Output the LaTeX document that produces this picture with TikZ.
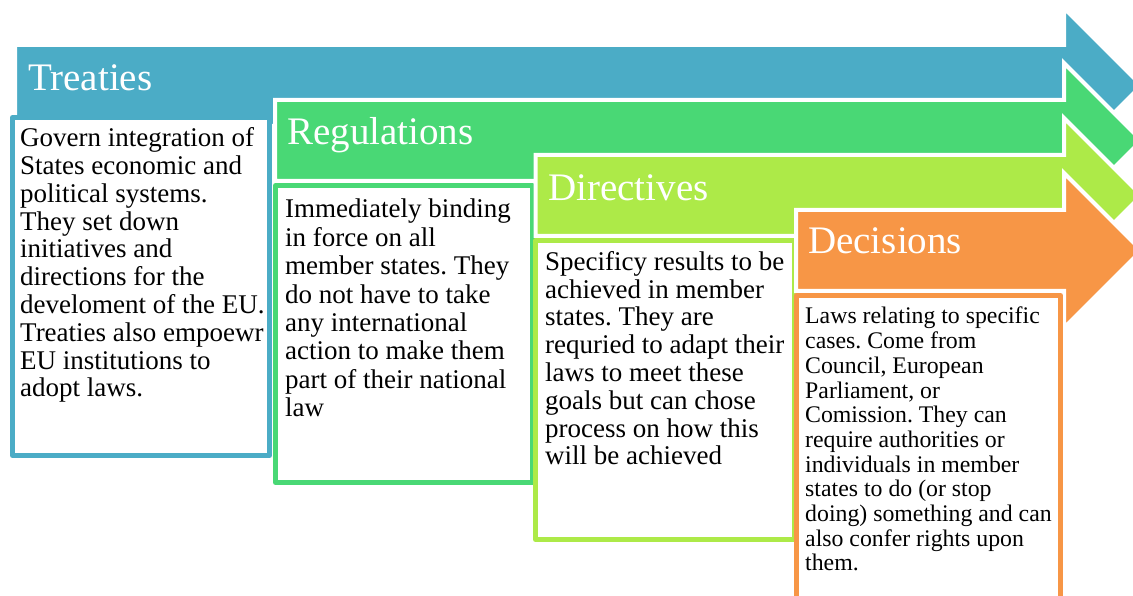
\documentclass[tikz,border=0pt]{standalone}
\usepackage{fontspec}
\setmainfont{Liberation Serif}
\frenchspacing
\definecolor{cblue}{RGB}{75,172,198}
\definecolor{cgreen}{RGB}{73,216,117}
\definecolor{clime}{RGB}{173,234,72}
\definecolor{corange}{RGB}{247,150,70}
\newcommand\bigarrow[3]{%
  \filldraw[arrowsty, fill=#1] (#2,#3-40.5) -- (1064,#3-40.5) -- (1064,#3-77.5)
    -- (1141.5,#3) -- (1064,#3+77.5) -- (1064,#3+40.5) -- (#2,#3+40.5) -- cycle;}
\tikzset{
  arrowsty/.style={draw=white, line width=4pt, line join=miter},
  boxsty/.style={fill=white, line width=5pt, line join=round},
  titlesty/.style={text=white, inner sep=0pt, anchor=base west,
    font=\fontsize{39}{44}\selectfont},
  bodysty/.style={text=black, inner sep=0pt, anchor=north west, align=left,
    font=\fontsize{27}{27.8}\selectfont},
  widebody/.style={bodysty, font=\fontsize{27}{28.4}\selectfont},
  smallbody/.style={bodysty, font=\fontsize{23.8}{24.7}\selectfont}
}
\begin{document}
\begin{tikzpicture}[x=1pt,y=-1pt]
\clip (0,0) rectangle (1133,596);
\fill[white] (0,0) rectangle (1133,596);
% Treaties
\bigarrow{cblue}{15}{85.5}
\draw[boxsty, draw=cblue] (12.5,117.5) rectangle (269.5,455.5);
\node[titlesty] (t1) at (28,91) {Treaties};
\node[bodysty] (b1) at (20,127.4) {Govern integration of\\States economic and\\political systems.\\They set down\\initiatives and\\directions for the\\develoment of the EU.\\Treaties also empoewr\\EU institutions to\\adopt laws.};
% Regulations
\bigarrow{cgreen}{275}{140.5}
\draw[boxsty, draw=cgreen] (275.5,185.5) rectangle (532.5,482.5);
\node[titlesty] (t2) at (287,145) {Regulations};
\node[widebody] (b2) at (285,199) {Immediately binding\\in force on all\\member states. They\\do not have to take\\any international\\action to make them\\part of their national\\law};
% Directives
\bigarrow{clime}{535.5}{195.5}
\draw[boxsty, draw=clime] (535.5,240.5) rectangle (794.5,539.5);
\node[titlesty] (t3) at (548,201) {Directives};
\node[bodysty] (b3) at (545,251) {Specificy results to be\\achieved in member\\states. They are\\requried to adapt their\\laws to meet these\\goals but can chose\\process on how this\\will be achieved};
% Decisions
\bigarrow{corange}{796}{250.5}
\draw[boxsty, draw=corange] (796.5,295.5) rectangle (1060.5,598.5);
\node[titlesty] (t4) at (808,254) {Decisions};
\node[smallbody] (b4) at (805,307) {Laws relating to specific\\cases. Come from\\Council, European\\Parliament, or\\Comission. They can\\require authorities or\\individuals in member\\states to do (or stop\\doing) something and can\\also confer rights upon\\them.};
\end{tikzpicture}
\end{document}
